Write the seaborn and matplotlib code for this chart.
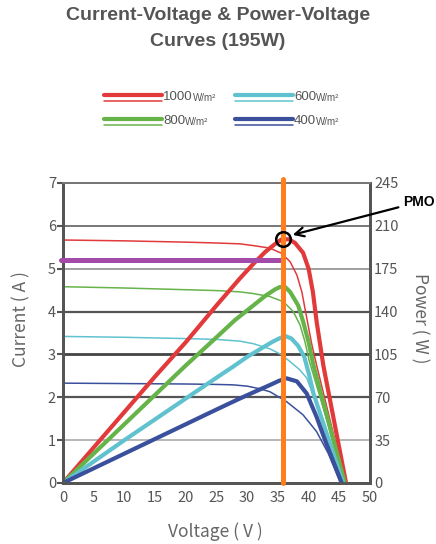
import numpy as np
import pandas as pd
import matplotlib
matplotlib.use("Agg")
import matplotlib.pyplot as plt
from matplotlib.lines import Line2D
import seaborn as sns

# current curves (A)
v_i1000 = [0, 10, 20, 25, 28.8, 31, 33.7, 35.6, 37, 38.1, 38.9, 39.7, 40.5, 41.3, 46.0]
i_1000 = [5.67, 5.65, 5.62, 5.60, 5.58, 5.54, 5.48, 5.36, 5.16, 4.85, 4.46, 3.85, 3.25, 2.75, 0]
v_i800 = [0, 10, 20, 25, 28.8, 31, 33.7, 35.9, 37.5, 38.6, 39.4, 40.1, 41, 43, 45.8]
i_800 = [4.58, 4.55, 4.51, 4.49, 4.46, 4.42, 4.35, 4.23, 4.0, 3.69, 3.30, 2.85, 2.42, 1.45, 0]
v_i600 = [0, 10, 20, 25, 28.8, 31, 33.7, 35.5, 37, 38.5, 39.7, 41, 43, 45.6]
i_600 = [3.42, 3.40, 3.37, 3.35, 3.31, 3.25, 3.13, 3.0, 2.83, 2.65, 2.45, 1.95, 1.10, 0]
v_i400 = [0, 10, 20, 25, 27.7, 30, 32, 33.7, 36.4, 39.1, 41.3, 43.2, 45.2]
i_400 = [2.33, 2.32, 2.31, 2.30, 2.29, 2.26, 2.20, 2.13, 1.90, 1.59, 1.20, 0.69, 0]

# power curves (W)
v_p1000 = [0, 5, 10, 15, 20, 25, 28.8, 31, 33, 34.5, 35.6, 36.8, 37.8, 39.1, 40.0, 40.7, 41.3, 42.4, 46.1]
p_1000 = [0, 29, 58, 87, 115, 145, 167, 179, 189, 195, 199, 199, 196, 188, 175, 156, 132, 96, 0]
v_p800 = [0, 5, 10, 15, 20, 25, 28, 31, 33, 34.5, 35.3, 36.2, 37, 38.3, 39.1, 40, 40.8, 45.9]
p_800 = [0, 24, 48, 72, 96, 119, 133, 145, 153, 158, 160, 160, 156, 145, 132, 115, 96, 0]
v_p600 = [0, 5, 10, 15, 20, 25, 27.7, 30, 32, 34, 35.2, 36.2, 37.2, 38.3, 39.3, 40.1, 40.8, 45.6]
p_600 = [0, 17.5, 35, 52, 69, 86, 95, 103, 109, 115, 118, 120, 118, 112, 103, 88, 73, 0]
v_p400 = [0, 5, 10, 15, 20, 25, 28.8, 31, 33.7, 35.2, 36.4, 38.1, 39.7, 41.3, 42.9, 45.4]
p_400 = [0, 12, 24, 36, 48, 60, 69, 74, 80, 83.5, 85.5, 83, 73, 54, 32, 0]

pmp_v = 35.8
pmp_i = 5.69
imp_line = 5.2

x_ticks = list(range(0, 51, 5))
i_ticks = list(range(0, 8))
p_ticks = list(range(0, 246, 35))

series = [
    ("1000", "#e23a3a", v_i1000, i_1000, v_p1000, p_1000),
    ("800", "#66b34a", v_i800, i_800, v_p800, p_800),
    ("600", "#61c2cf", v_i600, i_600, v_p600, p_600),
    ("400", "#3b509c", v_i400, i_400, v_p400, p_400),
]

sns.set_style("white")
plt.rcParams['font.family'] = ['Noto Sans CJK SC', 'DejaVu Sans']
txt = "#555555"

fig = plt.figure(figsize=(4.36, 5.44), dpi=100)
ax = fig.add_axes([63/436, 1-483/544, 307/436, 300/544])
ax2 = ax.twinx()

for name, col, vi, ii, vp, pp in series:
    sns.lineplot(x=vi, y=ii, ax=ax, color=col, linewidth=1.1, sort=False, estimator=None)
    sns.lineplot(x=vp, y=pp, ax=ax2, color=col, linewidth=3, sort=False, estimator=None,
                 solid_capstyle="round", solid_joinstyle="round")

ax.set_xlim(0, 50)
ax.set_ylim(0, 7)
ax2.set_ylim(0, 245)
ax.set_xticks(x_ticks)
ax.set_yticks(i_ticks)
ax2.set_yticks(p_ticks)

ax.grid(axis="y", zorder=0)
shades = ["#999", "#aaaaaa", "#555", "#444", "#555", "#999", "#777", "#777"]
widths = [1, 1.2, 1.6, 2, 1.6, 1.3, 1.4, 1.4]
for gl, c, w in zip(ax.get_ygridlines(), shades, widths):
    gl.set_color(c)
    gl.set_linewidth(w)
ax.grid(axis="x", visible=False)
ax2.grid(False)

# vertical Vmp line, horizontal Imp line and PMO marker
ax2.axvline(pmp_v, ymin=0, ymax=1.012, color="#ff7f1e", linewidth=3.6, clip_on=False, zorder=5)
ax2.plot([-0.4, pmp_v], [imp_line, imp_line], transform=ax.transData, color="#a44aa8",
         linewidth=3.6, clip_on=False, zorder=4)
ax2.plot([pmp_v], [pmp_i], "o", transform=ax.transData, markersize=10.5, mfc="none",
         mec="black", mew=1.8, zorder=6)
ax2.annotate("PMO", xy=(37.4, 5.79), xycoords=ax.transData,
             xytext=(403/436, 1-202/544), textcoords="figure fraction",
             ha="left", va="center", fontsize=10, fontweight="bold", color="black",
             family=["Liberation Sans"],
             arrowprops=dict(arrowstyle="->", color="black", lw=1.6, shrinkA=1, shrinkB=0,
                             mutation_scale=16),
             annotation_clip=False, zorder=7)

for a in (ax, ax2):
    for s in a.spines.values():
        s.set_color("#555555")
        s.set_linewidth(2)
    a.spines["top"].set_color("#777777")
    a.spines["top"].set_linewidth(1.4)

ax.tick_params(axis="both", colors=txt, labelsize=10.5, length=4, width=1.5, pad=1)
ax.tick_params(axis="x", length=2, pad=4)
ax2.tick_params(axis="y", colors=txt, labelsize=10.5, length=0, pad=3)

ax.set_xlabel("Voltage ( V )", fontsize=12.5, color="#666666", va="center")
ax.set_ylabel("Current ( A )", fontsize=12.5, color="#666666", va="center")
ax2.set_ylabel("Power ( W )", fontsize=12.5, color="#666666", rotation=270, va="center")
ax.xaxis.set_label_coords(0.495, -0.163)
ax.yaxis.set_label_coords(-0.134, 0.547)
ax2.yaxis.set_label_coords(1.163, 0.55)

fig.text(0.5, 1-16/544, "Current-Voltage & Power-Voltage", ha="center", va="center",
         fontsize=14, fontweight="bold", color=txt, family=["Liberation Sans"])
fig.text(0.5, 1-41/544, "Curves (195W)", ha="center", va="center",
         fontsize=14, fontweight="bold", color=txt, family=["Liberation Sans"])

# legend drawn as paired thick/thin samples
legend_pos = [(104, 95), (104, 119), (235, 95), (235, 119)]
for (name, col, *_), (lx, ly) in zip(series, legend_pos):
    fig.add_artist(Line2D([lx/436, (lx+58)/436], [1-ly/544, 1-ly/544], color=col,
                          linewidth=3, solid_capstyle="round", transform=fig.transFigure))
    fig.add_artist(Line2D([lx/436, (lx+58)/436], [1-(ly+6)/544, 1-(ly+6)/544], color=col,
                          linewidth=1.1, transform=fig.transFigure))
    fig.text((lx+59)/436, 1-(ly+2)/544, name, ha="left", va="center", fontsize=9.5,
             color=txt, family=["Liberation Sans"])
    fig.text((lx+59.5 + 7.3*len(name))/436, 1-(ly+3)/544, "W/m²", ha="left", va="center",
             fontsize=7, color=txt, family=["Liberation Sans"])

fig.savefig("out.png", dpi=100)
